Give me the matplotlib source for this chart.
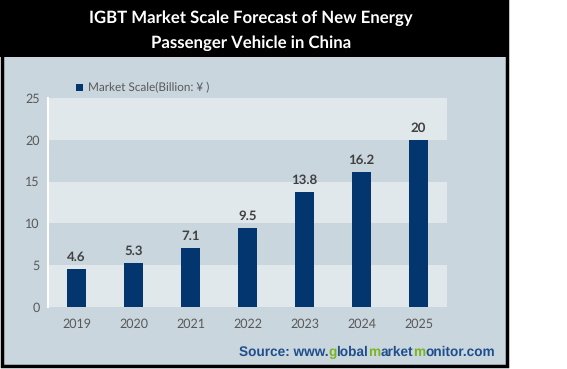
import matplotlib
matplotlib.use('Agg')
import numpy as np
import matplotlib.pyplot as plt
from matplotlib.patches import Rectangle
from matplotlib.font_manager import FontProperties

plt.rcParams['text.hinting'] = 'no_hinting'

years = ['2019', '2020', '2021', '2022', '2023', '2024', '2025']
values = [4.6, 5.3, 7.1, 9.5, 13.8, 16.2, 20]
labels = ['4.6', '5.3', '7.1', '9.5', '13.8', '16.2', '20']

W, H = 567, 369

bg = '#c9d6dd'
light = '#e0e8ec'
bar_col = '#03356e'

def fx(px):
    return px / W

def fy(py):
    return 1 - py / H

# fuente: texto azul con algunas letras verdes
blue = '#1f4e8c'
green = '#7ab51d'
parts = [('Source: www.', blue), ('g', green), ('lobal', blue), ('m', green),
         ('arket', blue), ('m', green), ('onitor.com', blue)]
src = ''.join(t for t, c in parts)
fp = FontProperties(family='Liberation Sans', weight='bold', size=9.8)
base_y = 356


def render(s, xpix):
    # dibuja el texto solo, devuelve la imagen en gris
    f = plt.figure(figsize=(W / 100, H / 100), dpi=100)
    f.text(fx(xpix), fy(base_y), s, fontproperties=fp, color='black', ha='left', va='baseline')
    f.canvas.draw()
    a = np.asarray(f.canvas.buffer_rgba())[:, :, 0].astype(int)
    plt.close(f)
    return a


def cols(mask):
    return np.where(mask.any(axis=0))[0]


# posiciones de cada trozo medidas sobre el texto completo
full = render(src, 100)
fc = cols(full < 250)
x_start = 495 - (fc[-1] + 1 - 100)
run_x = []
start = 0
for t, c in parts:
    end = start + len(t)
    a_end = render(src[:end], x_start)
    a_pre = render(src[:start], x_start) if start > 0 else np.full_like(a_end, 255)
    want = cols(np.abs(a_end - a_pre) > 30)[0]
    alone = cols(render(t, 200) < 250)[0]
    run_x.append(200 + want - alone)
    start = end

fig = plt.figure(figsize=(W / 100, H / 100), dpi=100)
fig.patch.set_facecolor('white')

# fondo gris con borde negro
fig.patches.append(Rectangle((fx(1.5), fy(366)), fx(505), 365 / H, transform=fig.transFigure,
                             facecolor=bg, edgecolor='black', linewidth=2.5, zorder=-2))
# banda negra del titulo
fig.patches.append(Rectangle((fx(0), fy(57)), fx(507), 57 / H, transform=fig.transFigure,
                             facecolor='black', edgecolor='none', zorder=-1))

fig.text(fx(251), fy(18), 'IGBT Market Scale Forecast of New Energy', color='white',
         fontsize=12.1, fontweight='bold', family='Lato', ha='center', va='center')
fig.text(fx(251), fy(43), 'Passenger Vehicle in China', color='white',
         fontsize=12.1, fontweight='bold', family='Lato', ha='center', va='center')

ax = fig.add_axes([fx(48), fy(307), fx(447 - 48), (307 - 98) / H])
ax.set_facecolor(bg)
ax.set_xlim(-0.5, 6.5)
ax.set_ylim(0, 25)

# bandas alternas
for lo in [0, 10, 20]:
    ax.axhspan(lo, lo + 5, color=light, zorder=0, linewidth=0)

x = list(range(len(years)))
ax.bar(x, values, width=0.32, color=bar_col, zorder=3)
for xi, v, lab in zip(x, values, labels):
    ax.text(xi, v + 0.7, lab, ha='center', va='bottom', fontsize=9.5,
            fontweight='bold', color='#404040', family='Lato')

ax.set_xticks(x)
ax.set_xticklabels(years)
ax.set_yticks([0, 5, 10, 15, 20, 25])
ax.tick_params(length=0, colors='#595959', labelsize=9, pad=8)
for lab in ax.get_xticklabels() + ax.get_yticklabels():
    lab.set_family('Lato')
ax.tick_params(axis='y', pad=6)
for s in ['top', 'right', 'bottom']:
    ax.spines[s].set_visible(False)
ax.spines['left'].set_color('white')
ax.spines['left'].set_linewidth(1.5)

# leyenda
fig.patches.append(Rectangle((fx(76), fy(91)), fx(7), 7 / H, transform=fig.transFigure,
                             facecolor=bar_col, edgecolor='none', zorder=2))
fig.text(fx(88), fy(87.5), 'Market Scale(Billion: ¥ )', color='#595959', fontsize=8.5,
         family='Lato', ha='left', va='center')

for (t, c), rx in zip(parts, run_x):
    fig.text(fx(rx), fy(base_y), t, color=c, ha='left', va='baseline', fontproperties=fp)

fig.savefig('out.png', dpi=100)
